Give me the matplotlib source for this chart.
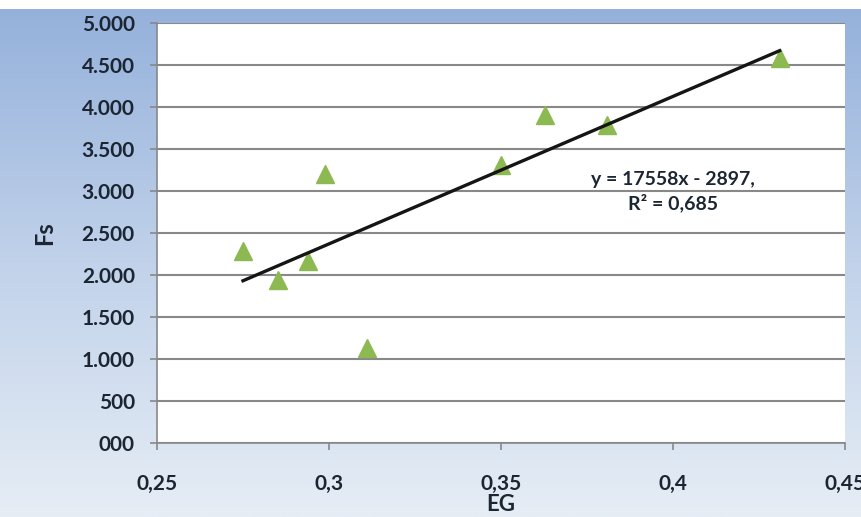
import matplotlib
matplotlib.use("Agg")
import matplotlib.pyplot as plt
import numpy as np
from matplotlib.colors import LinearSegmentedColormap

# EG vs Fs measurements
eg = [0.275, 0.2852, 0.2939, 0.2988, 0.311, 0.350, 0.3628, 0.3808, 0.431]
fs = [2280, 1940, 2170, 3200, 1130, 3310, 3905, 3790, 4585]

# linear trend from the fitted equation
slope, intercept, r2 = 17558, -2897, 0.685

xticks = [0.25, 0.30, 0.35, 0.40, 0.45]
xticklabels = ["0,25", "0,3", "0,35", "0,4", "0,45"]
yticks = [0, 500, 1000, 1500, 2000, 2500, 3000, 3500, 4000, 4500, 5000]
yticklabels = ["000", "500", "1.000", "1.500", "2.000", "2.500",
               "3.000", "3.500", "4.000", "4.500", "5.000"]

plt.rcParams['font.family'] = ['Lato', 'DejaVu Sans']
txt = '#1c2633'

fig = plt.figure(figsize=(8.61, 5.17), dpi=100)

# blue gradient chart background
bg = fig.add_axes([0, 0, 1, 1 - 9/517], zorder=-1)
grad = np.linspace(0, 1, 256).reshape(-1, 1)
cmap = LinearSegmentedColormap.from_list('bg', ['#95b1db', '#c1d2ea', '#e6edf5'])
bg.imshow(grad, aspect='auto', cmap=cmap, extent=[0, 1, 0, 1])
bg.set_axis_off()

ax = fig.add_axes([157/861, 1 - 443/517, (845 - 157)/861, (443 - 23)/517])
ax.set_facecolor('white')

ax.set_xlim(0.25, 0.45)
ax.set_ylim(0, 5000)
ax.set_yticks(yticks)
ax.set_yticklabels(yticklabels)
ax.set_xticks(xticks)
ax.set_xticklabels(xticklabels)
ax.grid(axis='y', color='#888888', lw=1.5)
ax.set_axisbelow(True)

for s in ['top', 'right']:
    ax.spines[s].set_visible(False)
for s in ['left', 'bottom']:
    ax.spines[s].set_color('#888888')
    ax.spines[s].set_linewidth(1.2)

ax.tick_params(axis='y', length=5, width=1.2, color='#888888', pad=11,
               labelsize=15, labelcolor=txt)
ax.tick_params(axis='x', length=5, width=1.2, color='#888888', pad=17,
               labelsize=15, labelcolor=txt)
for lab in ax.get_xticklabels() + ax.get_yticklabels():
    lab.set_fontweight('bold')

ax.plot(eg, fs, ls='none', marker='^', ms=13, color='#8db952', mec='#8db952', zorder=3)

xl = np.array([min(eg), max(eg)])
ax.plot(xl, slope*xl + intercept, color='#151515', lw=2.4, zorder=4)

eq = "y = %dx - %d," % (slope, -intercept)
r2s = "R² = " + ("%.3f" % r2).replace('.', ',')
ax.text(0.4, 2990, eq + "\n" + r2s, ha='center', va='center', fontsize=14,
        fontweight='bold', color=txt, linespacing=1.35, zorder=5)

ax.set_xlabel("EG", fontsize=16, fontweight='bold', color=txt, labelpad=0)
ax.set_ylabel("Fs", fontsize=17, fontweight='bold', color=txt, labelpad=18)

plt.savefig('out.png', dpi=100)
